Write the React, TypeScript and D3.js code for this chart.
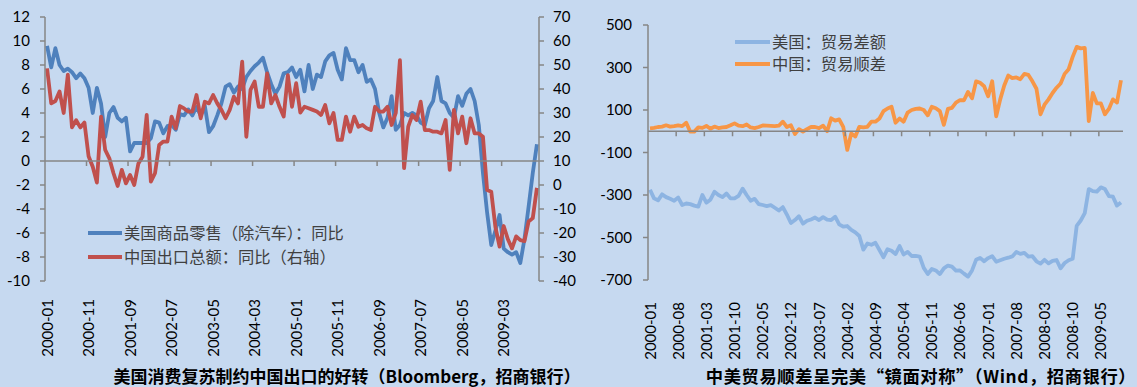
import React from 'react';
import * as d3 from 'd3';

const W = 1137;
const H = 387;

// ---------- Left panel data (2000-01 .. 2009-11) ----------
const usRetailYoY: number[] = [
  9.6, 7.8, 9.4, 8.0, 7.5, 7.7, 7.4, 6.9, 7.3, 6.9,
  6.1, 4.0, 6.1, 4.8, 2.0, 4.0, 4.5, 3.6, 3.3, 3.6,
  0.8, 1.5, 1.5, 1.5, 1.5, 1.9, 3.3, 3.2, 2.3, 2.9,
  3.0, 2.6, 3.9, 3.8, 4.3, 3.8, 4.5, 3.8, 4.6, 2.4,
  2.9, 3.8, 4.8, 6.2, 6.4, 5.7, 6.2, 6.0, 7.0, 7.5,
  7.9, 8.2, 8.6, 7.4, 6.4, 5.6, 6.2, 7.3, 7.4, 7.8,
  7.0, 7.6, 5.8, 8.0, 6.0, 7.2, 7.0, 8.3, 8.8, 9.0,
  7.6, 6.8, 9.4, 8.4, 8.4, 7.4, 8.0, 6.6, 6.8, 6.0,
  4.0, 2.8, 3.6, 5.4, 2.6, 3.0, 4.0, 3.8, 4.0, 3.8,
  3.2, 3.0, 4.4, 5.0, 7.0, 5.0, 4.8, 4.0, 3.6, 5.4,
  4.6, 5.6, 6.0, 5.0, 3.0, -1.0, -4.3, -7.0, -5.8, -4.5,
  -7.3, -7.6, -7.8, -7.6, -8.5, -6.5, -3.8, -1.0, 1.4,
];

const cnExportsYoY: number[] = [
  48.6, 34, 35, 39, 30, 46, 24, 27, 24, 26,
  12, 7.6, 1.0, 28.5, 14.6, 11.1, 4.9, -0.4, 6.3, 0.7,
  4.2, 0, 9.0, 11.8, 29.2, 1.4, 4.9, 16.7, 18.1, 18.1,
  28.5, 23.6, 32.9, 31.9, 30.6, 30.6, 37.5, 27.8, 34.7, 34,
  37.5, 34, 31.3, 27.8, 31.3, 36.8, 34, 51.4, 20.1, 39.6,
  43.1, 32.6, 32.6, 46.5, 34, 37.5, 32.6, 28.5, 45.8, 32.6,
  42.4, 30.2, 32.6, 32, 31.3, 30.6, 29.2, 33.3, 25.7, 30,
  18.8, 18.8, 28.5, 22.2, 28.5, 24.3, 25, 23.6, 22.9, 32.6,
  30.6, 30.6, 32.6, 25, 30, 52, 7, 24.3, 29.2, 27.1,
  34.7, 22.9, 22.9, 22.2, 22.2, 21.5, 27.1, 6.3, 31.3, 21.5,
  28.5, 17.4, 27.8, 21.5, 21.5, 20.1, -2.1, -2.8, -17.5, -25.7,
  -17.1, -22.6, -26.4, -21.4, -23.0, -23.4, -15.2, -13.8, -1.2,
];

const leftYTicks = [-10, -8, -6, -4, -2, 0, 2, 4, 6, 8, 10, 12];
const leftY2Ticks = [-40, -30, -20, -10, 0, 10, 20, 30, 40, 50, 60, 70];
const leftLabelEvery = 10;

// ---------- Right panel data (2000-01 .. 2009-10), 亿美元 ----------
const usTradeBalance: number[] = [
  -275, -316, -325, -297, -310, -318, -327, -312, -347, -340,
  -343, -350, -355, -300, -336, -322, -285, -300, -310, -293,
  -316, -316, -304, -270, -300, -327, -318, -343, -347, -352,
  -348, -360, -373, -357, -392, -432, -418, -400, -435, -421,
  -415, -406, -418, -404, -416, -418, -402, -438, -449, -446,
  -464, -476, -493, -557, -528, -534, -525, -559, -593, -555,
  -562, -578, -540, -580, -568, -587, -587, -590, -643, -672,
  -648, -655, -672, -645, -632, -637, -656, -655, -670, -684,
  -655, -605, -596, -612, -597, -588, -614, -607, -600, -595,
  -589, -568, -577, -572, -590, -588, -612, -623, -605, -622,
  -610, -606, -645, -620, -607, -600, -445, -420, -385, -272,
  -282, -284, -264, -272, -305, -308, -350, -335,
];

const cnTradeSurplus: number[] = [
  14, 16, 20, 22, 28, 22, 24, 28, 24, 40,
  -2, -2, 18, 16, 25, 12, 22, 15, 18, 20,
  28, 37, 26, 24, 32, 18, 15, 20, 27, 26,
  25, 24, 26, 45, 20, 28, -13, 10, -2, 10,
  20, 20, 15, 26, 0, 61, 50, 56, 21, -88,
  -10, -25, 21, 18, 21, 45, 45, 60, 95, 107,
  115, 40, 60, 45, 88, 100, 105, 107, 100, 75,
  115, 108, 95, 30, 105, 110, 135, 146, 146, 185,
  155, 235, 228, 212, 165, 235, 70, 150, 215, 262,
  250, 253, 245, 270, 265, 235, 200, 80, 125, 150,
  180, 205, 225, 270, 292, 350, 397, 390, 392, 48,
  180, 131, 131, 80, 105, 150, 135, 240,
];

const rightYTicks = [-700, -500, -300, -100, 100, 300, 500];
const rightLabelEvery = 7;

function monthLabels(startYear: number, n: number): string[] {
  const out: string[] = [];
  for (let k = 0; k < n; k++) {
    const y = startYear + Math.floor(k / 12);
    const m = (k % 12) + 1;
    out.push(`${y}-${m < 10 ? '0' + m : m}`);
  }
  return out;
}

const leftCategories = monthLabels(2000, usRetailYoY.length);
const rightCategories = monthLabels(2000, usTradeBalance.length);

const BG = '#C6D9F0';
const AXIS = '#868686';
const NUM_FONT = "Lato, 'Open Sans', sans-serif";
const CJK_FONT = "'Noto Sans CJK SC', 'Noto Sans', sans-serif";
const LW = 3.8;

export default function App() {
  // ----- left panel scales -----
  const xL = d3
    .scaleBand<string>()
    .domain(leftCategories)
    .range([45, 539])
    .paddingInner(0)
    .paddingOuter(0);
  const cxL = (c: string) => (xL(c) as number) + xL.bandwidth() / 2;
  const yL = d3.scaleLinear().domain([-10, 12]).range([281, 17]);
  const yL2 = d3.scaleLinear().domain([-40, 70]).range([281, 17]);

  const lineUS = d3
    .line<number>()
    .x((_, i) => cxL(leftCategories[i]))
    .y((d) => yL(d));
  const lineCN = d3
    .line<number>()
    .x((_, i) => cxL(leftCategories[i]))
    .y((d) => yL2(d));

  // ----- right panel scales -----
  const xR = d3
    .scaleBand<string>()
    .domain(rightCategories)
    .range([648, 1123])
    .paddingInner(0)
    .paddingOuter(0);
  const cxR = (c: string) => (xR(c) as number) + xR.bandwidth() / 2;
  const yR = d3.scaleLinear().domain([-700, 500]).range([280, 25]);

  const lineR = d3
    .line<number>()
    .x((_, i) => cxR(rightCategories[i]))
    .y((d) => yR(d));

  const leftTickIdx = leftCategories.map((_, i) => i).filter((i) => i % leftLabelEvery === 0);
  const rightTickIdx = rightCategories.map((_, i) => i).filter((i) => i % rightLabelEvery === 0);

  return (
    <svg
      width={W}
      height={H}
      style={{ position: 'absolute', left: 0, top: 0, display: 'block' }}
    >
      <rect x={0} y={0} width={W} height={H} fill={BG} />

      {/* ================= LEFT PANEL ================= */}
      <path d={lineUS(usRetailYoY) || ''} fill="none" stroke="#4F81BD" strokeWidth={LW} strokeLinejoin="round" />
      <path d={lineCN(cnExportsYoY) || ''} fill="none" stroke="#C0504D" strokeWidth={LW} strokeLinejoin="round" />

      {/* left y axis */}
      <line x1={45} x2={45} y1={yL(12)} y2={yL(-10)} stroke={AXIS} strokeWidth={1.5} />
      {leftYTicks.map((t) => (
        <g key={'ly' + t}>
          <line x1={40} x2={45} y1={yL(t)} y2={yL(t)} stroke={AXIS} strokeWidth={1.5} />
          <text x={30} y={yL(t)} dy="0.35em" textAnchor="end" fontFamily={NUM_FONT} fontSize={15} fill="#000">
            {t}
          </text>
        </g>
      ))}
      {/* right y axis */}
      <line x1={539} x2={539} y1={yL2(70)} y2={yL2(-40)} stroke={AXIS} strokeWidth={1.5} />
      {leftY2Ticks.map((t) => (
        <g key={'ry' + t}>
          <line x1={539} x2={544} y1={yL2(t)} y2={yL2(t)} stroke={AXIS} strokeWidth={1.5} />
          <text x={553} y={yL2(t)} dy="0.35em" textAnchor="start" fontFamily={NUM_FONT} fontSize={15} fill="#000">
            {t}
          </text>
        </g>
      ))}
      {/* x axis */}
      <line x1={45} x2={539} y1={yL(0)} y2={yL(0)} stroke={AXIS} strokeWidth={1.5} />
      {leftTickIdx.map((i) => (
        <g key={'lx' + i}>
          {i > 0 && (
            <line
              x1={xL(leftCategories[i]) as number}
              x2={xL(leftCategories[i]) as number}
              y1={yL(0)}
              y2={yL(0) + 5}
              stroke={AXIS}
              strokeWidth={1.5}
            />
          )}
          <text
            transform={`translate(${cxL(leftCategories[i]) + 5.5},299) rotate(-90)`}
            textAnchor="end"
            fontFamily={NUM_FONT}
            fontSize={15}
            fill="#000"
          >
            {leftCategories[i]}
          </text>
        </g>
      ))}

      {/* legend */}
      <line x1={88} x2={122} y1={233} y2={233} stroke="#4F81BD" strokeWidth={4} />
      <text x={124} y={233} dy="0.35em" fontFamily={CJK_FONT} fontSize={16.3} fill="#404040">
        美国商品零售（除汽车）：同比
      </text>
      <line x1={88} x2={122} y1={257} y2={257} stroke="#C0504D" strokeWidth={4} />
      <text x={124} y={257} dy="0.35em" fontFamily={CJK_FONT} fontSize={16.3} fill="#404040">
        中国出口总额：同比（右轴）
      </text>

      {/* title */}
      <text x={347} y={377} dy="0.35em" textAnchor="middle" fontFamily={CJK_FONT} fontSize={17} fontWeight="bold" fill="#000">
        美国消费复苏制约中国出口的好转（Bloomberg，招商银行）
      </text>

      {/* ================= RIGHT PANEL ================= */}
      <path d={lineR(usTradeBalance) || ''} fill="none" stroke="#8DB4E2" strokeWidth={LW} strokeLinejoin="round" />
      <path d={lineR(cnTradeSurplus) || ''} fill="none" stroke="#F79646" strokeWidth={LW} strokeLinejoin="round" />

      {/* y axis */}
      <line x1={648} x2={648} y1={yR(500)} y2={yR(-700)} stroke={AXIS} strokeWidth={1.5} />
      {rightYTicks.map((t) => (
        <g key={'rr' + t}>
          <line x1={643} x2={648} y1={yR(t)} y2={yR(t)} stroke={AXIS} strokeWidth={1.5} />
          <text x={632} y={yR(t)} dy="0.35em" textAnchor="end" fontFamily={NUM_FONT} fontSize={15} fill="#000">
            {t}
          </text>
        </g>
      ))}
      {/* x axis at 0 */}
      <line x1={648} x2={1123} y1={yR(0)} y2={yR(0)} stroke={AXIS} strokeWidth={1.5} />
      {rightTickIdx.map((i) => (
        <g key={'rx' + i}>
          {i > 0 && (
            <line
              x1={xR(rightCategories[i]) as number}
              x2={xR(rightCategories[i]) as number}
              y1={yR(0)}
              y2={yR(0) + 5}
              stroke={AXIS}
              strokeWidth={1.5}
            />
          )}
          <text
            transform={`translate(${cxR(rightCategories[i]) + 5.5},302) rotate(-90)`}
            textAnchor="end"
            fontFamily={NUM_FONT}
            fontSize={15}
            fill="#000"
          >
            {rightCategories[i]}
          </text>
        </g>
      ))}

      {/* legend */}
      <line x1={735} x2={770} y1={42} y2={42} stroke="#8DB4E2" strokeWidth={4} />
      <text x={772} y={42} dy="0.35em" fontFamily={CJK_FONT} fontSize={16.3} fill="#404040">
        美国：贸易差额
      </text>
      <line x1={735} x2={770} y1={64} y2={64} stroke="#F79646" strokeWidth={4} />
      <text x={772} y={64} dy="0.35em" fontFamily={CJK_FONT} fontSize={16.3} fill="#404040">
        中国：贸易顺差
      </text>

      {/* title */}
      <text x={921} y={377} dy="0.35em" textAnchor="middle" fontFamily={CJK_FONT} fontSize={17.3} letterSpacing={0.6} fontWeight="bold" fill="#000">
        中美贸易顺差呈完美“镜面对称”（Wind，招商银行）
      </text>
    </svg>
  );
}
